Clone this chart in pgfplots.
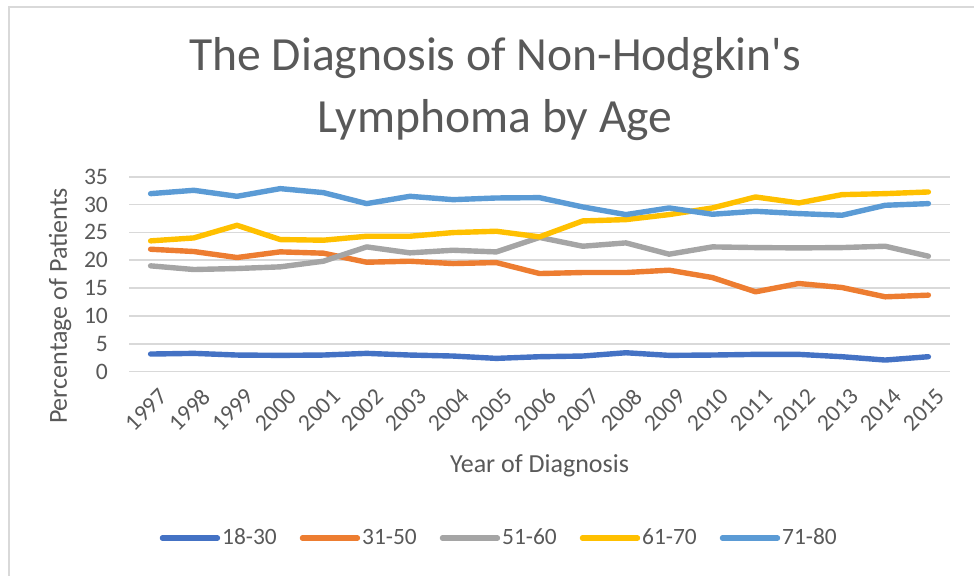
\documentclass[border=0pt]{standalone}
\usepackage{fontspec}
\setmainfont[Ligatures=TeXOff]{Carlito}
\usepackage{pgfplots}
\pgfplotsset{compat=1.18}
\definecolor{txt}{HTML}{595959}
\definecolor{gridc}{HTML}{D9D9D9}
\definecolor{cA}{HTML}{4472C4}
\definecolor{cB}{HTML}{ED7D31}
\definecolor{cC}{HTML}{A5A5A5}
\definecolor{cD}{HTML}{FFC000}
\definecolor{cE}{HTML}{5B9BD5}

\begin{document}
\begin{tikzpicture}
% canvas: 974 x 576 px, 1 px = 0.5pt
\path[use as bounding box] (0pt,0pt) rectangle (487pt,-288pt);
\draw[gridc, line width=0.8pt] (4.5pt,-288pt) -- (4.5pt,-3.5pt) -- (487pt,-3.5pt);
\begin{axis}[
  at={(64.5pt,-185.85pt)}, anchor=south west,
  scale only axis,
  width=410.5pt, height=97.5pt,
  xmin=1996.5, xmax=2015.5,
  ymin=0, ymax=35,
  xtick={1997,1998,...,2015},
  ytick={0,5,...,35},
  ymajorgrids,
  grid style={gridc, line width=0.8pt},
  axis line style={draw=none},
  major tick length=0pt,
  /pgf/number format/assume math mode=true,
  xticklabel style={/pgf/number format/1000 sep=, rotate=45, anchor=east,
    font=\fontsize{11.8}{13}\selectfont, text=txt, xshift=0.5pt, yshift=-12pt},
  yticklabel style={font=\fontsize{11.8}{13}\selectfont, text=txt, xshift=-7pt},
  ylabel={Percentage of Patients},
  ylabel style={at={(axis description cs:-0.084,0.337)}, anchor=center,
    font=\fontsize{13}{15}\selectfont, text=txt},
  xlabel={Year of Diagnosis},
  xlabel style={at={(axis description cs:0.5,-0.484)}, anchor=center,
    font=\fontsize{13}{15}\selectfont, text=txt},
  title={The Diagnosis of Non-Hodgkin's\\Lymphoma by Age},
  title style={at={(axis description cs:0.446,1.39)}, anchor=center, align=center,
    font=\fontsize{23.8}{31}\selectfont, text=txt},
  every axis plot/.append style={line width=2.7pt, line cap=round, line join=round},
  legend columns=-1,
  legend style={at={(axis description cs:0.451,-0.853)}, anchor=center, draw=none,
    font=\fontsize{11.7}{13}\selectfont, text=txt,
    nodes={inner xsep=1pt},
    /tikz/every even column/.append style={column sep=10.5pt}},
  legend image code/.code={\draw[#1, line width=2.7pt] (0pt,0pt) -- (27.5pt,0pt);},
]
\addplot[cA] coordinates {
(1997,3.17) (1998,3.29) (1999,2.99) (2000,2.93) (2001,2.99) (2002,3.29) (2003,2.99)
(2004,2.81) (2005,2.39) (2006,2.69) (2007,2.81) (2008,3.40) (2009,2.93) (2010,2.99)
(2011,3.11) (2012,3.11) (2013,2.69) (2014,2.09) (2015,2.69)};
\addlegendentry{18-30}
\addplot[cB] coordinates {
(1997,21.98) (1998,21.57) (1999,20.49) (2000,21.51) (2001,21.27) (2002,19.65) (2003,19.83)
(2004,19.41) (2005,19.59) (2006,17.62) (2007,17.80) (2008,17.80) (2009,18.22) (2010,16.90)
(2011,14.34) (2012,15.83) (2013,15.11) (2014,13.44) (2015,13.74)};
\addlegendentry{31-50}
\addplot[cC] coordinates {
(1997,19.00) (1998,18.34) (1999,18.52) (2000,18.82) (2001,19.83) (2002,22.40) (2003,21.33)
(2004,21.80) (2005,21.50) (2006,24.10) (2007,22.52) (2008,23.12) (2009,21.09) (2010,22.40)
(2011,22.28) (2012,22.22) (2013,22.28) (2014,22.52) (2015,20.73)};
\addlegendentry{51-60}
\addplot[cD] coordinates {
(1997,23.48) (1998,24.01) (1999,26.28) (2000,23.72) (2001,23.60) (2002,24.31) (2003,24.31)
(2004,24.97) (2005,25.21) (2006,24.20) (2007,27.06) (2008,27.30) (2009,28.20) (2010,29.39)
(2011,31.36) (2012,30.29) (2013,31.78) (2014,31.96) (2015,32.26)};
\addlegendentry{61-70}
\addplot[cE] coordinates {
(1997,31.96) (1998,32.56) (1999,31.48) (2000,32.86) (2001,32.14) (2002,30.17) (2003,31.48)
(2004,30.88) (2005,31.18) (2006,31.24) (2007,29.57) (2008,28.20) (2009,29.39) (2010,28.26)
(2011,28.79) (2012,28.38) (2013,28.08) (2014,29.87) (2015,30.17)};
\addlegendentry{71-80}
\end{axis}
\end{tikzpicture}
\end{document}
